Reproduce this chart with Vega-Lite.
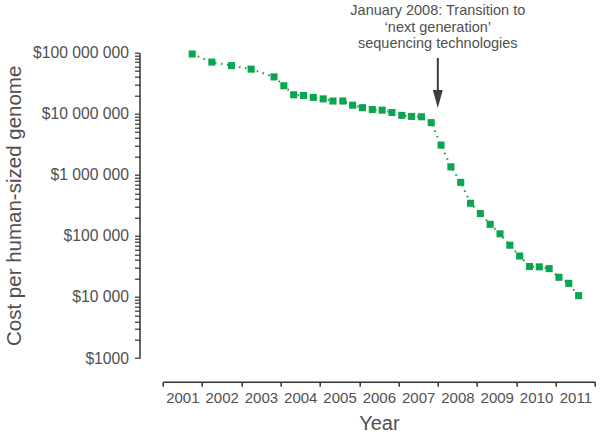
{
  "$schema": "https://vega.github.io/schema/vega-lite/v6.json",
  "autosize": {"type": "none"},
  "padding": {"left": 162.7, "top": 52.7, "right": 5, "bottom": 79},
  "width": 432.3,
  "height": 305.3,
  "config": {
    "view": {"stroke": null},
    "font": "Liberation Sans",
    "axis": {"labelFont": "Liberation Sans", "titleFont": "Liberation Sans", "labelColor": "#505050", "titleColor": "#505050", "domainColor": "#333333", "tickColor": "#333333", "titleFontWeight": "normal", "grid": false, "labelOverlap": false, "labelSeparation": 0}
  },
  "datasets": {
    "cost": [
      {"year": 2001.75, "cost": 95263072},
      {"year": 2002.25, "cost": 70175437},
      {"year": 2002.75, "cost": 61448422},
      {"year": 2003.25, "cost": 53751684},
      {"year": 2003.833, "cost": 40157554},
      {"year": 2004.083, "cost": 28780376},
      {"year": 2004.333, "cost": 20442576},
      {"year": 2004.583, "cost": 19934346},
      {"year": 2004.833, "cost": 18519312},
      {"year": 2005.083, "cost": 17534970},
      {"year": 2005.333, "cost": 16159699},
      {"year": 2005.583, "cost": 16180224},
      {"year": 2005.833, "cost": 13801124},
      {"year": 2006.083, "cost": 12585659},
      {"year": 2006.333, "cost": 11732535},
      {"year": 2006.583, "cost": 11455315},
      {"year": 2006.833, "cost": 10474556},
      {"year": 2007.083, "cost": 9408739},
      {"year": 2007.333, "cost": 9047003},
      {"year": 2007.583, "cost": 8927342},
      {"year": 2007.833, "cost": 7147571},
      {"year": 2008.083, "cost": 3063820},
      {"year": 2008.333, "cost": 1352982},
      {"year": 2008.583, "cost": 752080},
      {"year": 2008.833, "cost": 342502},
      {"year": 2009.083, "cost": 232735},
      {"year": 2009.333, "cost": 154714},
      {"year": 2009.583, "cost": 108065},
      {"year": 2009.833, "cost": 70333},
      {"year": 2010.083, "cost": 46774},
      {"year": 2010.333, "cost": 31512},
      {"year": 2010.583, "cost": 31125},
      {"year": 2010.833, "cost": 29092},
      {"year": 2011.083, "cost": 20963},
      {"year": 2011.333, "cost": 16712},
      {"year": 2011.583, "cost": 10497}
    ],
    "arrow": [{"year": 2008.0, "cost": 82000000, "cost2": 22000000}],
    "head": [{"year": 2008.0, "cost": 17450000}],
    "note": [{"year": 2008.0, "cost": 414000000, "text": "January 2008: Transition to\n‘next generation’\nsequencing technologies"}]
  },
  "encoding": {
    "x": {
      "field": "year", "type": "quantitative",
      "scale": {"domain": [2001, 2012], "nice": false, "zero": false},
      "axis": {
        "title": "Year", "titleFontSize": 20, "titlePadding": 8,
        "values": [2001, 2002, 2003, 2004, 2005, 2006, 2007, 2008, 2009, 2010, 2011, 2012],
        "format": "d",
        "labelExpr": "datum.value == 2012 ? '' : datum.label",
        "labelOffset": 19.65, "labelFontSize": 15, "labelPadding": 4,
        "labelOverlap": false, "labelBound": false, "labelFlush": false,
        "tickSize": 4.5, "tickWidth": 1.5, "domainWidth": 1.5,
        "offset": 23.7
      }
    },
    "y": {
      "field": "cost", "type": "quantitative",
      "scale": {"type": "log", "domain": [1000, 100000000], "nice": false},
      "axis": {
        "title": "Cost per human-sized genome", "titleFontSize": 20.5, "titlePadding": 8,
        "values": [1000, 2000, 3000, 4000, 5000, 6000, 7000, 8000, 9000,
                   10000, 20000, 30000, 40000, 50000, 60000, 70000, 80000, 90000,
                   100000, 200000, 300000, 400000, 500000, 600000, 700000, 800000, 900000,
                   1000000, 2000000, 3000000, 4000000, 5000000, 6000000, 7000000, 8000000, 9000000,
                   10000000, 20000000, 30000000, 40000000, 50000000, 60000000, 70000000, 80000000, 90000000,
                   100000000],
        "tickCount": 46,
        "labelExpr": "datum.value == 1000 ? '$1000' : (indexof([10000, 100000, 1000000, 10000000, 100000000], datum.value) >= 0 ? '$' + replace(format(datum.value, ','), regexp(',', 'g'), ' ') : '')",
        "labelFontSize": 15.7, "labelPadding": 6,
        "labelOverlap": false, "labelBound": false, "labelFlush": false,
        "tickSize": 5,
        "tickWidth": 1.2, "domainWidth": 1.5,
        "offset": 23.2,
        "encode": {
          "ticks": {
            "update": {
              "x2": {"signal": "indexof([1000, 10000, 100000, 1000000, 10000000, 100000000], datum.value) >= 0 ? -5 : -2.5"}
            }
          }
        }
      }
    }
  },
  "layer": [
    {
      "data": {"name": "cost"},
      "mark": {"type": "line", "color": "#0aa550", "strokeWidth": 2, "strokeDash": [1.6, 4.5]}
    },
    {
      "data": {"name": "cost"},
      "mark": {"type": "point", "shape": "square", "filled": true, "size": 50, "color": "#0aa550", "opacity": 1}
    },
    {
      "data": {"name": "arrow"},
      "mark": {"type": "rule", "color": "#3c3c3c", "strokeWidth": 2},
      "encoding": {"y2": {"field": "cost2"}}
    },
    {
      "data": {"name": "head"},
      "mark": {"type": "point", "shape": "M-0.55,-1L0.55,-1L0,1Z", "filled": true, "size": 324, "color": "#3c3c3c", "opacity": 1, "strokeWidth": 0}
    },
    {
      "data": {"name": "note"},
      "mark": {"type": "text", "font": "Liberation Sans", "fontSize": 14.5, "lineHeight": 16.7, "lineBreak": "\n", "align": "center", "baseline": "alphabetic", "color": "#505050"},
      "encoding": {"text": {"field": "text"}}
    }
  ]
}
